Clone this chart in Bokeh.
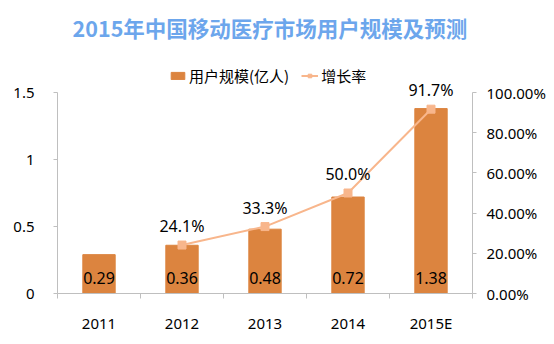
from bokeh.plotting import figure
from bokeh.models import (ColumnDataSource, Range1d, LinearAxis, FixedTicker, Label,
                          Legend, LegendItem, NumeralTickFormatter, LabelSet)
from bokeh.core.properties import value
from bokeh.embed import file_html
from bokeh.resources import INLINE

categories = ["2011", "2012", "2013", "2014", "2015E"]
users = [0.29, 0.36, 0.48, 0.72, 1.38]
growth = [None, 0.241, 0.333, 0.500, 0.917]
growth_labels = ["", "24.1%", "33.3%", "50.0%", "91.7%"]
user_labels = ["0.29", "0.36", "0.48", "0.72", "1.38"]
left_ticks = [0, 0.5, 1, 1.5]
right_ticks = [0, 0.2, 0.4, 0.6, 0.8, 1.0]
title_text = "2015年中国移动医疗市场用户规模及预测"

BAR = "#DC843F"
LINE = "#F8B68C"
AX = "#BFBFBF"
NUMFONT = "Noto Sans"
CJK = "Noto Sans CJK SC"

# frame spans full height above the x axis; axes are bounded to the data span
FRAME_H = 293.0
AXIS_H = 201.0
ymax_left = 1.5 * FRAME_H / AXIS_H
ymax_right = 1.0 * FRAME_H / AXIS_H

xs = [i + 0.5 for i in range(len(categories))]
src = ColumnDataSource(dict(x=xs, users=users, ulab=user_labels, zero=[0] * len(xs)))
gx = [x for x, g in zip(xs, growth) if g is not None]
gy = [g for g in growth if g is not None]
gl = [l for l, g in zip(growth_labels, growth) if g is not None]
gsrc = ColumnDataSource(dict(x=gx, y=gy, lab=gl))

p = figure(width=554, height=344, output_backend="svg", toolbar_location=None,
           x_range=Range1d(0, len(categories)), y_range=Range1d(0, ymax_left),
           min_border_left=57, min_border_right=82, min_border_top=0, min_border_bottom=51,
           outline_line_color=None, background_fill_color="white", border_fill_color="white")
p.extra_y_ranges = {"pct": Range1d(0, ymax_right)}
p.xgrid.visible = False
p.ygrid.visible = False

bars = p.vbar(x="x", top="users", width=0.39, source=src, fill_color=BAR, line_color=BAR)
line = p.line(x="x", y="y", source=gsrc, y_range_name="pct", line_color=LINE, line_width=2)
marks = p.scatter(x="x", y="y", source=gsrc, y_range_name="pct", marker="square", size=8,
                  fill_color=LINE, line_color=LINE)

p.add_layout(LabelSet(x="x", y="zero", text="ulab", source=src, y_offset=16,
                      text_align="center", text_baseline="middle", text_font=value(NUMFONT),
                      text_font_size="16px", text_color="black"))
p.add_layout(LabelSet(x="x", y="y", text="lab", source=gsrc, y_range_name="pct", y_offset=19,
                      text_align="center", text_baseline="middle", text_font=value(NUMFONT),
                      text_font_size="16px", text_color="black"))

# axes
xax = p.xaxis[0]
xax.ticker = FixedTicker(ticks=xs, minor_ticks=list(range(len(categories) + 1)))
xax.major_label_overrides = {x: c for x, c in zip(xs, categories)}
xax.major_tick_out = 0
xax.major_tick_in = 0
xax.minor_tick_out = 5
xax.minor_tick_in = 0
xax.minor_tick_line_color = AX
xax.axis_line_color = AX
xax.major_label_standoff = 14
xax.major_label_text_font = NUMFONT
xax.major_label_text_font_size = "15px"
xax.major_label_text_color = "black"

yax = p.yaxis[0]
yax.ticker = FixedTicker(ticks=left_ticks)
yax.bounds = (0, 1.5)
yax.major_label_overrides = {0: "0", 0.5: "0.5", 1: "1", 1.5: "1.5"}
yax.minor_tick_line_color = None
yax.major_tick_out = 4
yax.major_tick_in = 0
yax.major_tick_line_color = AX
yax.axis_line_color = AX
yax.major_label_standoff = 19
yax.major_label_text_font = NUMFONT
yax.major_label_text_font_size = "15px"
yax.major_label_text_color = "black"

rax = LinearAxis(y_range_name="pct", ticker=FixedTicker(ticks=right_ticks),
                 formatter=NumeralTickFormatter(format="0.00%"), bounds=(0, 1.0))
rax.minor_tick_line_color = None
rax.major_tick_out = 4
rax.major_tick_in = 0
rax.major_tick_line_color = AX
rax.axis_line_color = AX
rax.major_label_standoff = 10
rax.major_label_text_font = NUMFONT
rax.major_label_text_font_size = "15px"
rax.major_label_text_color = "black"
p.add_layout(rax, "right")

# title
p.add_layout(Label(x=2.56, y=ymax_left * (FRAME_H - 27) / FRAME_H, text=title_text,
                   text_align="center", text_baseline="middle", text_font=CJK,
                   text_font_size="21.5px", text_font_style="bold", text_color="#6CA6EC"))

legend = Legend(items=[LegendItem(label="用户规模(亿人)", renderers=[bars]),
                       LegendItem(label="增长率", renderers=[line, marks])],
                location=(112, 207), orientation="horizontal",
                label_text_font=CJK, label_text_font_size="15px", label_text_color="black",
                glyph_width=17, glyph_height=9, label_standoff=3, spacing=12,
                padding=0, margin=0, border_line_color=None, background_fill_alpha=0)
p.add_layout(legend)

open("out.html", "w").write(file_html(p, INLINE))
